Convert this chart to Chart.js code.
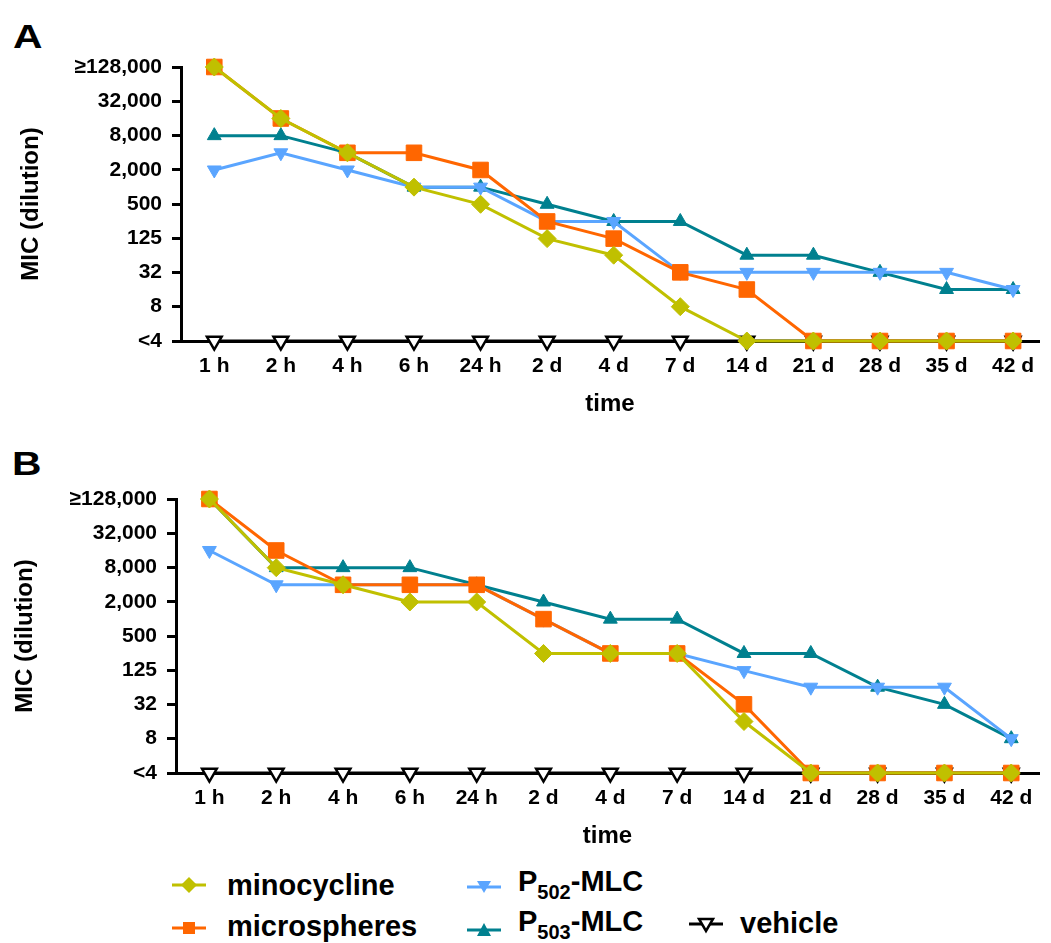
<!DOCTYPE html>
<html>
<head>
<meta charset="utf-8">
<script src="https://cdn.jsdelivr.net/npm/chart.js@4/dist/chart.umd.min.js"></script>
<style>
  html, body { margin:0; padding:0; background:#fff; overflow:hidden; }
  body { width:1051px; height:943px; position:relative; font-family:"Liberation Sans", Arial, sans-serif; font-weight:bold; color:#000; }
  .panel { position:absolute; left:0; width:1051px; height:430px; }
  .plabel { position:absolute; font-size:34px; line-height:34px; transform-origin:left top; transform:scaleX(1.2); }
  .leg { position:absolute; font-size:29px; line-height:32px; white-space:nowrap; }
  .leg .sb { font-size:20px; position:relative; top:8px; }
  .sym { position:absolute; width:34px; height:20px; }
</style>
</head>
<body>
<div class="plabel" style="left:13px;top:19px;">A</div>
<div class="panel" style="top:0px;"><canvas id="chartA" width="1051" height="430"></canvas></div>
<div class="plabel" style="left:12px;top:446px;">B</div>
<div class="panel" style="top:432px;"><canvas id="chartB" width="1051" height="430"></canvas></div>

<!-- legend -->
<svg class="sym" style="left:172px;top:875px;" viewBox="0 0 34 20"><line x1="0" y1="10" x2="34" y2="10" stroke="#C0C000" stroke-width="3"/><polygon points="9,10 17,2 25,10 17,18" fill="#C0C000"/></svg>
<div class="leg" style="left:227px;top:869px;">minocycline</div>
<svg class="sym" style="left:172px;top:918px;" viewBox="0 0 34 20"><line x1="0" y1="10" x2="34" y2="10" stroke="#FF6600" stroke-width="3"/><rect x="11" y="4" width="12" height="12" fill="#FF6600"/></svg>
<div class="leg" style="left:227px;top:910px;">microspheres</div>
<svg class="sym" style="left:467px;top:877px;" viewBox="0 0 34 20"><line x1="0" y1="10" x2="34" y2="10" stroke="#5AA5FF" stroke-width="3"/><polygon points="10,4 24,4 17,16" fill="#5AA5FF"/></svg>
<div class="leg" style="left:518px;top:865px;">P<span class="sb">502</span>-MLC</div>
<svg class="sym" style="left:467px;top:920px;" viewBox="0 0 34 20"><line x1="0" y1="10" x2="34" y2="10" stroke="#00808F" stroke-width="3"/><polygon points="17,3 24,16 10,16" fill="#00808F"/></svg>
<div class="leg" style="left:518px;top:905px;">P<span class="sb">503</span>-MLC</div>
<svg class="sym" style="left:689px;top:914px;" viewBox="0 0 34 20"><line x1="0" y1="10" x2="34" y2="10" stroke="#000" stroke-width="3"/><polygon points="10,5 24,5 17,17" fill="#fff" stroke="#000" stroke-width="2.5"/></svg>
<div class="leg" style="left:740px;top:907px;">vehicle</div>

<script>
// ---------------- data ----------------
const categories = ['1 h','2 h','4 h','6 h','24 h','2 d','4 d','7 d','14 d','21 d','28 d','35 d','42 d'];
const yTickValues = [2, 8, 32, 125, 500, 2000, 8000, 32000, 128000];   // 2 stands for "<4"
const yTickLabels = ['<4','8','32','125','500','2,000','8,000','32,000','\u2265128,000'];
const seriesNames = ['minocycline','microspheres','P502-MLC','P503-MLC','vehicle'];

// Panel A
const aMinocycline  = [128000,16000,4000,1000,500,125,64,8,2,2,2,2,2];
const aMicrospheres = [128000,16000,4000,4000,2000,250,125,32,16,2,2,2,2];
const aP502         = [2000,4000,2000,1000,1000,250,250,32,32,32,32,32,16];
const aP503         = [8000,8000,4000,1000,1000,500,250,250,64,64,32,16,16];
const aVehicle      = [2,2,2,2,2,2,2,2,2,2,2,2,2];

// Panel B
const bMinocycline  = [128000,8000,4000,2000,2000,250,250,250,16,2,2,2,2];
const bMicrospheres = [128000,16000,4000,4000,4000,1000,250,250,32,2,2,2,2];
const bP502         = [16000,4000,4000,4000,4000,1000,250,250,125,64,64,64,8];
const bP503         = [128000,8000,8000,8000,4000,2000,1000,1000,250,250,64,32,8];
const bVehicle      = [2,2,2,2,2,2,2,2,2,2,2,2,2];

// ---------------- styling ----------------
const FONT = "'Liberation Sans', Arial, sans-serif";
Chart.defaults.font.family = FONT;
Chart.defaults.color = '#000';

const styles = [
  {color:'#C0C000', pointStyle:'rectRot',  radius:9,  rotation:0},
  {color:'#FF6600', pointStyle:'rect',     radius:11, rotation:0},
  {color:'#5AA5FF', pointStyle:'triangle', radius:8,  rotation:180},
  {color:'#00808F', pointStyle:'triangle', radius:8,  rotation:0},
  {color:'#000000', pointStyle:'triangle', radius:8.5, rotation:180, fill:'#ffffff', pbw:2.5}
];

function makeDatasets(arrs) {
  return arrs.map((arr, k) => {
    const s = styles[k];
    return {
      label: seriesNames[k],
      data: arr.map((v, i) => ({x: i, y: v})),
      borderColor: s.color,
      backgroundColor: s.fill || s.color,
      borderWidth: 3,
      pointStyle: s.pointStyle,
      pointRadius: s.radius,
      pointHoverRadius: s.radius,
      pointRotation: s.rotation,
      pointBackgroundColor: s.fill || s.color,
      pointBorderColor: s.color,
      pointBorderWidth: s.pbw || 1,
      clip: false,
      tension: 0
    };
  });
}

function makeChart(id, arrs, axisLeft, xMax, yTitlePad) {
  return new Chart(document.getElementById(id), {
    type: 'line',
    data: { datasets: makeDatasets(arrs) },
    options: {
      responsive: false,
      animation: false,
      devicePixelRatio: 1,
      layout: { padding: { top: 67, left: 0, right: 0, bottom: 0 } },
      plugins: { legend: { display: false }, tooltip: { enabled: false } },
      scales: {
        x: {
          type: 'linear', min: -0.5, max: xMax,
          afterBuildTicks: s => { s.ticks = categories.map((c, i) => ({value: i})); },
          ticks: {
            callback: (v, i) => categories[i],
            font: { size: 21, weight: 'bold' }, color: '#000',
            padding: 13, maxRotation: 0, autoSkip: false
          },
          grid: { display: false, drawTicks: false },
          border: { display: true, color: '#000', width: 3 },
          title: { display: true, text: 'time', color: '#000',
                   font: { size: 24, weight: 'bold' }, padding: { top: 0, bottom: 11 } },
          afterFit: s => { s.height = 89; }
        },
        y: {
          type: 'logarithmic', min: 2, max: 128000,
          afterBuildTicks: s => { s.ticks = yTickValues.map(v => ({value: v})); },
          ticks: {
            callback: (v, i) => yTickLabels[i],
            font: { size: 21, weight: 'bold' }, color: '#000', padding: 10
          },
          grid: { display: true, drawOnChartArea: false, drawTicks: true,
                  tickLength: 9, tickWidth: 3, tickColor: '#000' },
          border: { display: true, color: '#000', width: 3 },
          title: { display: true, text: 'MIC (dilution)', color: '#000',
                   font: { size: 24, weight: 'bold' }, padding: { top: yTitlePad, bottom: 0 } },
          afterFit: s => { s.width = axisLeft; }
        }
      }
    }
  });
}

makeChart('chartA', [aMinocycline, aMicrospheres, aP502, aP503, aVehicle], 181, (1051 - 181) / 67.5 - 0.5, 17);
makeChart('chartB', [bMinocycline, bMicrospheres, bP502, bP503, bVehicle], 176, (1051 - 176) / 67.75 - 0.5, 11);
</script>
</body>
</html>
